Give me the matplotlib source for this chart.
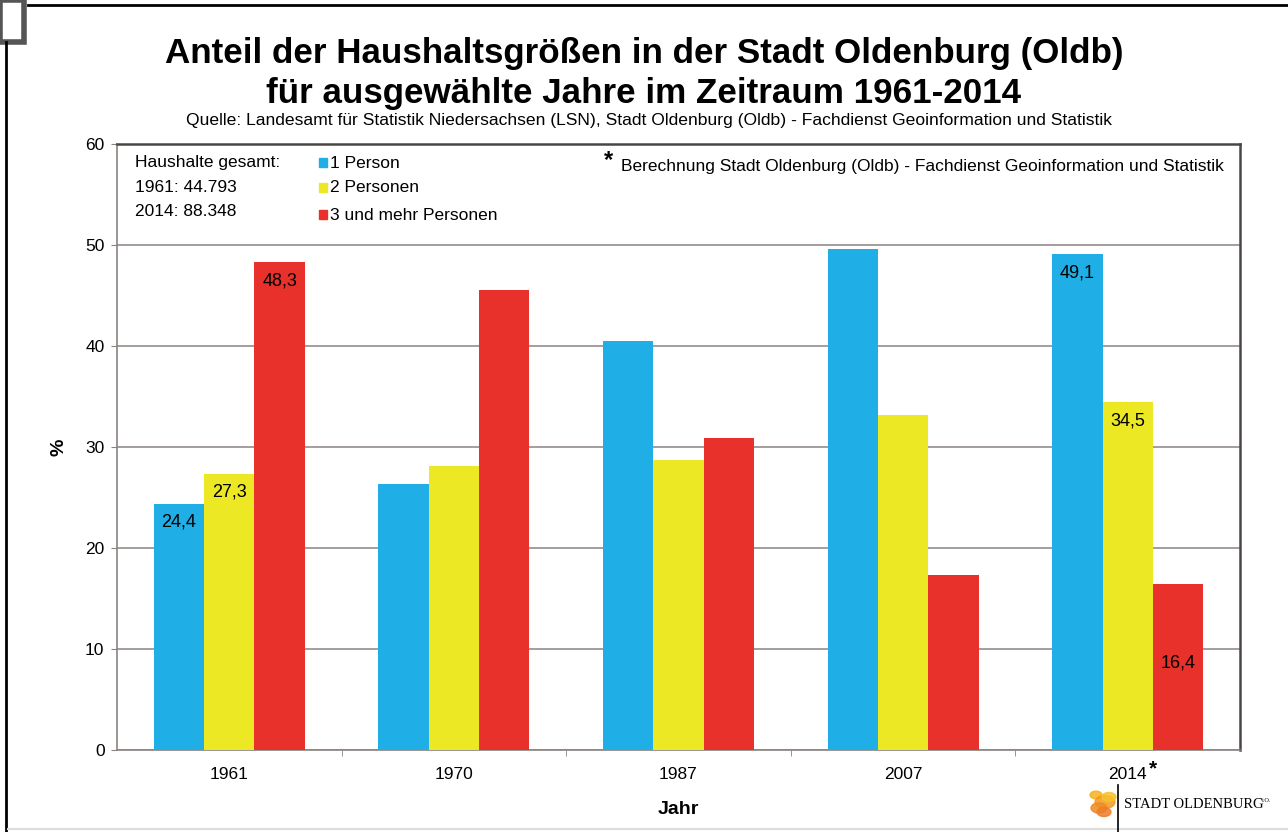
import numpy as np
import matplotlib.pyplot as plt
from matplotlib.patches import Circle, Rectangle
from matplotlib.lines import Line2D

plt.rcParams['font.family'] = ['Liberation Sans', 'DejaVu Sans']

years = ['1961', '1970', '1987', '2007', '2014']
one_person = [24.4, 26.3, 40.5, 49.6, 49.1]
two_persons = [27.3, 28.1, 28.7, 33.2, 34.5]
three_plus = [48.3, 45.5, 30.9, 17.3, 16.4]
series_names = ['1 Person', '2 Personen', '3 und mehr Personen']

BLUE = '#1faee6'
YELLOW = '#ede824'
RED = '#e8312b'
GRID = '#8a8480'
FS = 12.5

fig = plt.figure(figsize=(12.88, 8.32), dpi=100)
fig.patch.set_facecolor('white')
ax = fig.add_axes([117 / 1288, 82 / 832, (1240 - 117) / 1288, (750 - 144) / 832])

x = np.arange(len(years))
width = 0.224
series = [one_person, two_persons, three_plus]
colors = [BLUE, YELLOW, RED]
for i, (vals, c) in enumerate(zip(series, colors)):
    ax.bar(x + (i - 1) * width, vals, width, color=c, zorder=3)

ax.set_xlim(-0.5, len(years) - 0.5)
ax.set_ylim(0, 60)
ax.set_yticks(np.arange(0, 61, 10))
ax.yaxis.grid(True, color=GRID, lw=1.1, zorder=0)
ax.set_xticks(x)
ax.set_xticklabels(years)
ax.set_xticks(np.arange(0.5, len(years) - 0.5, 1), minor=True)
ax.tick_params(axis='x', which='major', length=0, pad=12, labelsize=FS)
ax.tick_params(axis='x', which='minor', length=4, color=GRID, direction='out')
ax.tick_params(axis='y', length=4, color=GRID, pad=5, labelsize=FS)

# 2014 is a computed value, flagged with an asterisk
ax.annotate('*', (x[-1], 0), xytext=(21, -19), textcoords='offset pixels',
            ha='left', va='center', fontsize=15, fontweight='bold')

for side in ['left', 'bottom']:
    ax.spines[side].set_color(GRID)
    ax.spines[side].set_linewidth(1.2)
for side in ['top', 'right']:
    ax.spines[side].set_color('#4a4644')
    ax.spines[side].set_linewidth(1.8)

ax.set_xlabel('Jahr', fontsize=14, fontweight='bold', labelpad=14)
ax.set_ylabel('%', fontsize=14, fontweight='bold', labelpad=13)

# value labels (series, year, drop below bar top in px)
labels = [
    (0, 0, 18), (1, 0, 18), (2, 0, 19),
    (0, 4, 19), (1, 4, 19), (2, 4, 79),
]
for s, k, drop in labels:
    v = series[s][k]
    ax.annotate(f'{v:.1f}'.replace('.', ','), (x[k] + (s - 1) * width, v),
                xytext=(0, -drop), textcoords='offset pixels',
                ha='center', va='center', fontsize=13, zorder=4)

# legend block in the top band of the chart
fig.text(135 / 1288, (832 - 163) / 832, 'Haushalte gesamt:', fontsize=FS, va='center')
fig.text(135 / 1288, (832 - 188) / 832, '1961: 44.793', fontsize=FS, va='center')
fig.text(135 / 1288, (832 - 212) / 832, '2014: 88.348', fontsize=FS, va='center')
for j, (name, c) in enumerate(zip(series_names, colors)):
    yy = [163, 188, 215][j]
    fig.patches.append(Rectangle((319 / 1288, (832 - yy - 4) / 832), 8 / 1288, 9 / 832,
                                 transform=fig.transFigure, color=c))
    fig.text(330 / 1288, (832 - yy) / 832, name, fontsize=FS, va='center')

fig.text(604 / 1288, (832 - 161) / 832, '*', fontsize=17, fontweight='bold', va='center')
fig.text(621 / 1288, (832 - 166) / 832,
         'Berechnung Stadt Oldenburg (Oldb) - Fachdienst Geoinformation und Statistik',
         fontsize=FS, va='center')

# titles
fig.text(0.5, (832 - 54) / 832, 'Anteil der Haushaltsgrößen in der Stadt Oldenburg (Oldb)',
         ha='center', va='center', fontsize=25.2, fontweight='bold')
fig.text(0.5, (832 - 94) / 832, 'für ausgewählte Jahre im Zeitraum 1961-2014',
         ha='center', va='center', fontsize=25.2, fontweight='bold')
fig.text(0.504, (832 - 121) / 832,
         'Quelle: Landesamt für Statistik Niedersachsen (LSN), Stadt Oldenburg (Oldb) - Fachdienst Geoinformation und Statistik',
         ha='center', va='center', fontsize=12.6)

# page frame
fig.add_artist(Line2D([28 / 1288, 1], [827 / 832, 827 / 832], color='black', lw=2))
fig.add_artist(Line2D([6 / 1288, 6 / 1288], [0, 790 / 832], color='black', lw=2))
fig.add_artist(Rectangle((0, 790 / 832), 24 / 1288, 42 / 832, facecolor='white',
                         edgecolor='#555555', lw=4, transform=fig.transFigure))
fig.add_artist(Line2D([8 / 1288, 1], [3 / 832, 3 / 832], color='#dddddd', lw=1.5))

# city logo
for cx, cy, r, c in [(1096, 795, 6, '#f7b21c'), (1105, 802, 10, '#f39a1e'),
                     (1099, 808, 8, '#f08a24'), (1109, 797, 7, '#f9c02c'),
                     (1104, 812, 7, '#ee7d2a')]:
    fig.add_artist(Circle((cx / 1288, (832 - cy) / 832), r / 1288, color=c, alpha=0.85,
                          transform=fig.transFigure))
fig.add_artist(Line2D([1118 / 1288, 1118 / 1288], [0, 47 / 832], color='black', lw=1.2))
fig.text(1124 / 1288, (832 - 805) / 832, 'STADT OLDENBURG', fontsize=10.5,
         family=['Liberation Serif', 'DejaVu Serif'], va='center')
fig.text(1262 / 1288, (832 - 801) / 832, 'i.O.', fontsize=4.5,
         family=['Liberation Serif', 'DejaVu Serif'], va='center')

fig.savefig('out.png', dpi=100)
